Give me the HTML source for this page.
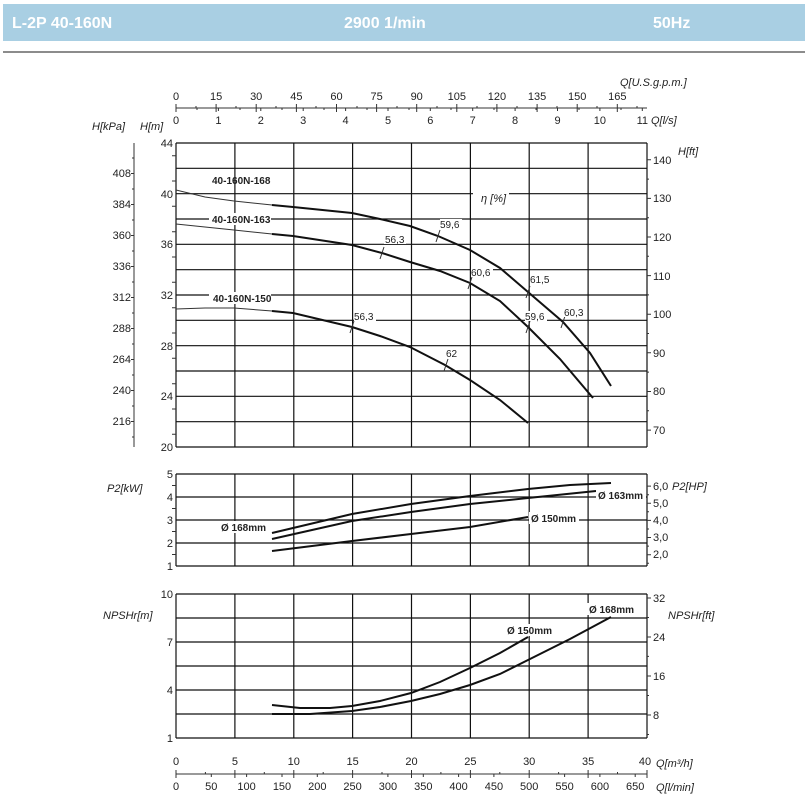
<!DOCTYPE html>
<html><head><meta charset="utf-8"><style>
body{margin:0;background:#fff;width:808px;height:809px;overflow:hidden}
svg{display:block}
text{font-family:"Liberation Sans",Arial,sans-serif;font-size:11px;fill:#222}
.it{font-style:italic}
.b{font-weight:bold;font-size:10px}
.g{stroke:#111;stroke-width:1.2;fill:none}
.c{stroke:#111;stroke-width:2;fill:none}
.t{stroke:#333;stroke-width:1;fill:none}
</style></head><body>
<svg width="808" height="809" viewBox="0 0 808 809">
<rect x="3" y="4" width="802" height="37" fill="#a9cfe3"/>
<text x="12" y="28" style="font-size:16px;font-weight:bold;fill:#fff">L-2P 40-160N</text>
<text x="344" y="28" style="font-size:16px;font-weight:bold;fill:#fff">2900 1/min</text>
<text x="653" y="28" style="font-size:16px;font-weight:bold;fill:#fff">50Hz</text>
<line x1="3" y1="52" x2="805" y2="52" stroke="#666" stroke-width="1.5"/>

<!-- top axis -->
<text x="620" y="86" class="it">Q[U.S.g.p.m.]</text>
<line x1="176" y1="108" x2="647" y2="108" class="t"/>
<path class="t" d="M176 104V112M216.1 104V112M256.2 104V112M296.4 104V112M336.5 104V112M376.6 104V112M416.7 104V112M456.8 104V112M496.9 104V112M537.1 104V112M577.2 104V112M617.3 104V112
M196 106V108M236 106V108M276 106V108M316 106V108M357 106V108M397 106V108M437 106V108M477 106V108M517 106V108M557 106V108M597 106V108M637 106V108
M218.4 108V111M260.8 108V111M303.2 108V111M345.6 108V111M388 108V111M430.3 108V111M472.7 108V111M515.1 108V111M557.5 108V111M599.9 108V111M642.3 108V111
M197 108V110M240 108V110M282 108V110M324 108V110M367 108V110M409 108V110M451 108V110M494 108V110M536 108V110M579 108V110M621 108V110"/>
<g text-anchor="middle">
<text x="176" y="100">0</text><text x="216.1" y="100">15</text><text x="256.2" y="100">30</text><text x="296.4" y="100">45</text><text x="336.5" y="100">60</text><text x="376.6" y="100">75</text><text x="416.7" y="100">90</text><text x="456.8" y="100">105</text><text x="496.9" y="100">120</text><text x="537.1" y="100">135</text><text x="577.2" y="100">150</text><text x="617.3" y="100">165</text>
<text x="176" y="124">0</text><text x="218.4" y="124">1</text><text x="260.8" y="124">2</text><text x="303.2" y="124">3</text><text x="345.6" y="124">4</text><text x="388" y="124">5</text><text x="430.3" y="124">6</text><text x="472.7" y="124">7</text><text x="515.1" y="124">8</text><text x="557.5" y="124">9</text><text x="599.9" y="124">10</text><text x="642.3" y="124">11</text>
</g>
<text x="651" y="124" class="it">Q[l/s]</text>
<text x="92" y="130" class="it">H[kPa]</text>
<text x="140" y="130" class="it">H[m]</text>

<!-- H chart grid -->
<path class="g" d="M176 143H647M176 168.3H647M176 193.7H647M176 219H647M176 244.3H647M176 269.7H647M176 295H647M176 320.3H647M176 345.7H647M176 371H647M176 396.3H647M176 421.7H647M176 447H647
M176 143V447M234.9 143V447M293.8 143V447M352.6 143V447M411.5 143V447M470.4 143V447M529.2 143V447M588.1 143V447M647 143V447"/>
<g text-anchor="end">
<text x="173" y="147">44</text><text x="173" y="198">40</text><text x="173" y="248">36</text><text x="173" y="299">32</text><text x="173" y="350">28</text><text x="173" y="400">24</text><text x="173" y="451">20</text>
<text x="131" y="177">408</text><text x="131" y="208">384</text><text x="131" y="239">360</text><text x="131" y="270">336</text><text x="131" y="301">312</text><text x="131" y="332">288</text><text x="131" y="363">264</text><text x="131" y="394">240</text><text x="131" y="425">216</text>
</g>
<path class="t" d="M134 143V447M131 173.5H134M131 204.5H134M131 235.5H134M131 266.5H134M131 297.5H134M131 328.5H134M131 359.5H134M131 390.5H134M131 421.5H134
M132 158H134M132 189H134M132 220H134M132 251H134M132 282H134M132 313H134M132 344H134M132 375H134M132 406H134M132 437H134
M172 155.7H176M172 181H176M172 206.3H176M172 231.7H176M172 257H176M172 282.3H176M172 307.7H176M172 333H176M172 358.3H176M172 383.7H176M172 409H176M172 434.3H176
M647 159.8H651M647 198.4H651M647 237H651M647 275.6H651M647 314.2H651M647 352.8H651M647 391.5H651M647 430.1H651
M647 179.1H649M647 217.7H649M647 256.3H649M647 294.9H649M647 333.5H649M647 372.1H649M647 410.8H649"/>
<g>
<text x="653" y="164">140</text><text x="653" y="202">130</text><text x="653" y="241">120</text><text x="653" y="280">110</text><text x="653" y="318">100</text><text x="653" y="357">90</text><text x="653" y="395">80</text><text x="653" y="434">70</text>
</g>
<text x="678" y="155" class="it">H[ft]</text>

<!-- label backgrounds -->
<rect x="209" y="213" width="62" height="12" fill="#fff"/>
<rect x="209" y="292" width="62" height="12" fill="#fff"/>
<rect x="473" y="190" width="36" height="14" fill="#fff"/>
<text x="212" y="184" class="b">40-160N-168</text>
<text x="212" y="223" class="b">40-160N-163</text>
<text x="213" y="302" class="b">40-160N-150</text>
<text x="481" y="202" class="it">η [%]</text>

<!-- H curves -->
<polyline class="t" points="176,190 205,197 234,201 272,205"/>
<polyline class="c" points="272,205 293,207 352,213 380,219 410,226 438,236 470,250 500,268 528,292 563,322 590,353 611,386"/>
<polyline class="t" points="176,224 234,230 272,234"/>
<polyline class="c" points="272,234 293,236 352,245 382,253 410,262 440,271 470,283 500,301 528,327 560,359 593,398"/>
<polyline class="t" points="176,309 205,308 234,308 272,311"/>
<polyline class="c" points="272,311 293,313 352,327 380,336 410,347 445,365 470,380 500,400 528,423"/>
<path class="t" d="M380 259L384 247M436 242L440 230M468 289L472 277M526 298L530 286M526 333L530 321M561 328L565 316M350 333L354 321M444 371L448 359"/>
<g style="font-size:10px">
<rect x="384" y="234" width="22" height="10" fill="#fff"/><text x="385" y="243" style="font-size:10px">56,3</text>
<rect x="440" y="219" width="22" height="10" fill="#fff"/><text x="440" y="228" style="font-size:10px">59,6</text>
<rect x="471" y="267" width="22" height="10" fill="#fff"/><text x="471" y="276" style="font-size:10px">60,6</text>
<rect x="530" y="274" width="22" height="10" fill="#fff"/><text x="530" y="283" style="font-size:10px">61,5</text>
<rect x="525" y="311" width="22" height="10" fill="#fff"/><text x="525" y="320" style="font-size:10px">59,6</text>
<rect x="564" y="307" width="22" height="10" fill="#fff"/><text x="564" y="316" style="font-size:10px">60,3</text>
<rect x="354" y="311" width="22" height="10" fill="#fff"/><text x="354" y="320" style="font-size:10px">56,3</text>
<text x="446" y="357" style="font-size:10px">62</text>
</g>

<!-- P2 chart -->
<path class="g" d="M176 474H647M176 497H647M176 520H647M176 543H647M176 566H647
M176 474V566M234.9 474V566M293.8 474V566M352.6 474V566M411.5 474V566M470.4 474V566M529.2 474V566M588.1 474V566M647 474V566"/>
<path class="t" d="M172 485.5H176M172 508.5H176M172 531.5H176M172 554.5H176
M647 486.1H651M647 503.2H651M647 520.4H651M647 537.5H651M647 554.7H651M647 494.7H649M647 511.8H649M647 529H649M647 546.1H649M647 563.3H649"/>
<g text-anchor="end"><text x="173" y="478">5</text><text x="173" y="501">4</text><text x="173" y="524">3</text><text x="173" y="547">2</text><text x="173" y="570">1</text></g>
<text x="653" y="490">6,0</text><text x="653" y="507">5,0</text><text x="653" y="524">4,0</text><text x="653" y="541">3,0</text><text x="653" y="558">2,0</text>
<text x="672" y="490" class="it">P2[HP]</text>
<text x="107" y="492" class="it">P2[kW]</text>
<polyline class="c" points="272,533 352,514 411,504 470,496 528,489 570,485 611,483"/>
<polyline class="c" points="272,539 352,521 411,512 470,504 528,498 596,491"/>
<polyline class="c" points="272,551 352,541 411,534 470,527 528,517"/>
<rect x="218" y="521" width="50" height="12" fill="#fff"/><text x="221" y="531" class="b">Ø 168mm</text>
<rect x="596" y="489" width="50" height="12" fill="#fff"/><text x="598" y="499" class="b">Ø 163mm</text>
<rect x="529" y="512" width="50" height="12" fill="#fff"/><text x="531" y="522" class="b">Ø 150mm</text>

<!-- NPSH chart -->
<path class="g" d="M176 594H647M176 618H647M176 642H647M176 666H647M176 690H647M176 714H647M176 738H647
M176 594V738M234.9 594V738M293.8 594V738M352.6 594V738M411.5 594V738M470.4 594V738M529.2 594V738M588.1 594V738M647 594V738"/>
<path class="t" d="M647 598H651M647 637H651M647 676H651M647 715H651M647 617.5H649M647 656.4H649M647 695.5H649M647 734.5H649"/>
<g text-anchor="end"><text x="173" y="598">10</text><text x="173" y="646">7</text><text x="173" y="694">4</text><text x="173" y="742">1</text></g>
<text x="653" y="602">32</text><text x="653" y="641">24</text><text x="653" y="680">16</text><text x="653" y="719">8</text>
<text x="668" y="619" class="it">NPSHr[ft]</text>
<text x="103" y="619" class="it">NPSHr[m]</text>
<polyline class="c" points="272,705 300,708 330,708 352,706 380,701 411,693 440,682 470,668 500,653 528,637"/>
<polyline class="c" points="272,714 310,714 352,711 380,707 411,701 440,694 470,685 500,674 528,660 570,639 611,617"/>
<rect x="505" y="624" width="50" height="12" fill="#fff"/><text x="507" y="634" class="b">Ø 150mm</text>
<rect x="587" y="603" width="50" height="12" fill="#fff"/><text x="589" y="613" class="b">Ø 168mm</text>

<!-- bottom axis -->
<line x1="176" y1="774" x2="647" y2="774" class="t"/>
<path class="t" d="M176 770V778M234.9 770V778M293.8 770V778M352.6 770V778M411.5 770V778M470.4 770V778M529.2 770V778M588.1 770V778M647 770V778
M205.4 772V774M264.3 772V774M323.2 772V774M382 772V774M440.9 772V774M499.8 772V774M558.6 772V774M617.5 772V774
M211.3 774V777M246.6 774V777M282 774V777M317.3 774V777M352.6 774V777M387.9 774V777M423.3 774V777M458.6 774V777M493.9 774V777M529.2 774V777M564.6 774V777M599.9 774V777M635.2 774V777"/>
<g text-anchor="middle">
<text x="176" y="765">0</text><text x="234.9" y="765">5</text><text x="293.8" y="765">10</text><text x="352.6" y="765">15</text><text x="411.5" y="765">20</text><text x="470.4" y="765">25</text><text x="529.2" y="765">30</text><text x="588.1" y="765">35</text><text x="645" y="765">40</text>
<text x="176" y="790">0</text><text x="211.3" y="790">50</text><text x="246.6" y="790">100</text><text x="282" y="790">150</text><text x="317.3" y="790">200</text><text x="352.6" y="790">250</text><text x="387.9" y="790">300</text><text x="423.3" y="790">350</text><text x="458.6" y="790">400</text><text x="493.9" y="790">450</text><text x="529.2" y="790">500</text><text x="564.6" y="790">550</text><text x="599.9" y="790">600</text><text x="635.2" y="790">650</text>
</g>
<text x="656" y="767" class="it">Q[m³/h]</text>
<text x="656" y="791" class="it">Q[l/min]</text>
</svg>
</body></html>
